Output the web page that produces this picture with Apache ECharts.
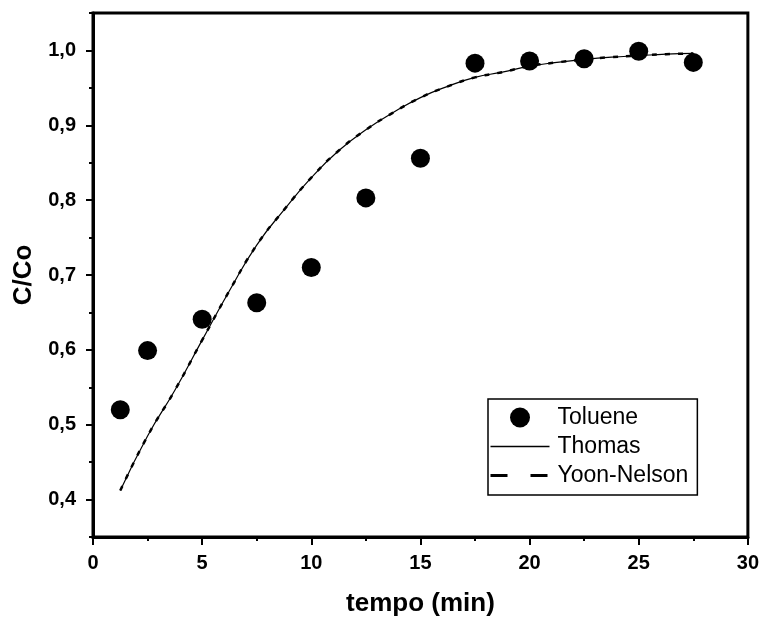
<!DOCTYPE html>
<html>
<head>
<meta charset="utf-8">
<script src="https://cdn.jsdelivr.net/npm/echarts@6/dist/echarts.min.js"></script>
<style>
  html, body { margin: 0; padding: 0; background: #fff; }
  #chart { width: 762px; height: 622px; }
</style>
</head>
<body>
<div id="chart"></div>
<script>
// Breakthrough data: measured toluene C/Co and the two fitted models
const tempo = [1.25, 2.5, 5, 7.5, 10, 12.5, 15, 17.5, 20, 22.5, 25, 27.5];
const toluene = [0.520, 0.599, 0.641, 0.663, 0.710, 0.803, 0.856, 0.983, 0.986, 0.989, 0.999, 0.984];

const tempoFit = [1.25, 2.5, 3.75, 5, 6.25, 7.5, 8.75, 10, 11.25, 12.5, 13.75,
                  15, 16.25, 17.5, 18.75, 20, 21.25, 22.5, 23.75, 25, 26.25, 27.5];
const thomas = [0.412, 0.485, 0.546, 0.613, 0.679, 0.740, 0.787, 0.830, 0.866, 0.894, 0.917,
                0.937, 0.952, 0.964, 0.971, 0.979, 0.984, 0.988, 0.991, 0.993, 0.995, 0.996];
const yoonNelson = [0.412, 0.485, 0.546, 0.613, 0.679, 0.740, 0.787, 0.830, 0.866, 0.894, 0.917,
                    0.937, 0.952, 0.964, 0.971, 0.979, 0.984, 0.988, 0.991, 0.993, 0.995, 0.996];

// Axis ticks
const xTicks = [0, 5, 10, 15, 20, 25, 30];
const yTicks = [0.4, 0.5, 0.6, 0.7, 0.8, 0.9, 1.0];
const yMinorTicks = [0.35, 0.45, 0.55, 0.65, 0.75, 0.85, 0.95, 1.05];

const pairs = (xs, ys) => xs.map((x, i) => [x, ys[i]]);
const comma = v => v.toFixed(1).replace('.', ',');

const chart = echarts.init(document.getElementById('chart'), null, { renderer: 'canvas' });

const labelFont = { fontFamily: 'Liberation Sans', fontWeight: 'bold', fontSize: 20, color: '#000' };
const nameFont = { fontFamily: 'Liberation Sans', fontWeight: 'bold', fontSize: 26, color: '#000' };

chart.setOption({
  animation: false,
  backgroundColor: '#fff',
  color: ['#000', '#000', '#000'],
  grid: {
    left: 93, right: 12, top: 13, bottom: 84,
    show: true, borderColor: '#000', borderWidth: 3, backgroundColor: 'transparent'
  },
  xAxis: {
    type: 'value',
    min: xTicks[0], max: xTicks[xTicks.length - 1], interval: 5,
    name: 'tempo (min)', nameLocation: 'middle', nameGap: 54,
    nameTextStyle: nameFont,
    axisLine: { lineStyle: { color: '#000', width: 3 } },
    axisTick: { show: true, length: 8, lineStyle: { color: '#000', width: 2 } },
    minorTick: { show: true, splitNumber: 2, length: 4, lineStyle: { color: '#000', width: 2 } },
    axisLabel: Object.assign({ margin: 16 }, labelFont),
    splitLine: { show: false }
  },
  yAxis: [
    {
      type: 'value',
      position: 'left',
      min: 0.35, max: 1.05,
      name: 'C/Co', nameLocation: 'middle', nameGap: 54,
      nameTextStyle: nameFont,
      axisLine: { lineStyle: { color: '#000', width: 3 } },
      axisTick: { show: true, length: 7, customValues: yTicks, lineStyle: { color: '#000', width: 2 } },
      axisLabel: Object.assign({ margin: 17, customValues: yTicks, formatter: comma }, labelFont),
      splitLine: { show: false }
    },
    {
      type: 'value',
      position: 'left',
      min: 0.35, max: 1.05,
      axisLine: { show: false },
      axisTick: { show: true, length: 4, customValues: yMinorTicks, lineStyle: { color: '#000', width: 2 } },
      axisLabel: { show: false },
      splitLine: { show: false }
    }
  ],
  legend: {
    orient: 'vertical',
    left: 488, top: 399,
    padding: [7, 9, 8, 1],
    itemWidth: 59, itemHeight: 20, itemGap: 6,
    borderColor: '#000', borderWidth: 1.5, borderRadius: 0,
    selectedMode: false,
    textStyle: { fontFamily: 'Liberation Sans', fontSize: 23, color: '#000', padding: [0, 0, 0, 3] },
    data: [
      { name: 'Toluene', icon: 'circle', itemStyle: { color: '#000', opacity: 1 } },
      { name: 'Thomas', itemStyle: { opacity: 0 }, lineStyle: { width: 1.5, color: '#000', type: 'solid' } },
      { name: 'Yoon-Nelson', itemStyle: { opacity: 0 }, lineStyle: { width: 3, color: '#000', type: [17, 23] } }
    ]
  },
  series: [
    {
      name: 'Thomas',
      type: 'line',
      data: pairs(tempoFit, thomas),
      smooth: true,
      symbol: 'none',
      showSymbol: false,
      itemStyle: { color: '#000' },
      lineStyle: { color: '#000', width: 1.2 },
      z: 2
    },
    {
      name: 'Yoon-Nelson',
      type: 'line',
      data: pairs(tempoFit, yoonNelson),
      smooth: true,
      symbol: 'none',
      showSymbol: false,
      itemStyle: { color: '#000' },
      lineStyle: { color: '#000', width: 2.5, type: [5, 8] },
      z: 3
    },
    {
      name: 'Toluene',
      type: 'scatter',
      data: pairs(tempo, toluene),
      symbol: 'circle',
      symbolSize: 19,
      itemStyle: { color: '#000', opacity: 1 },
      z: 4
    }
  ]
});
</script>
</body>
</html>
